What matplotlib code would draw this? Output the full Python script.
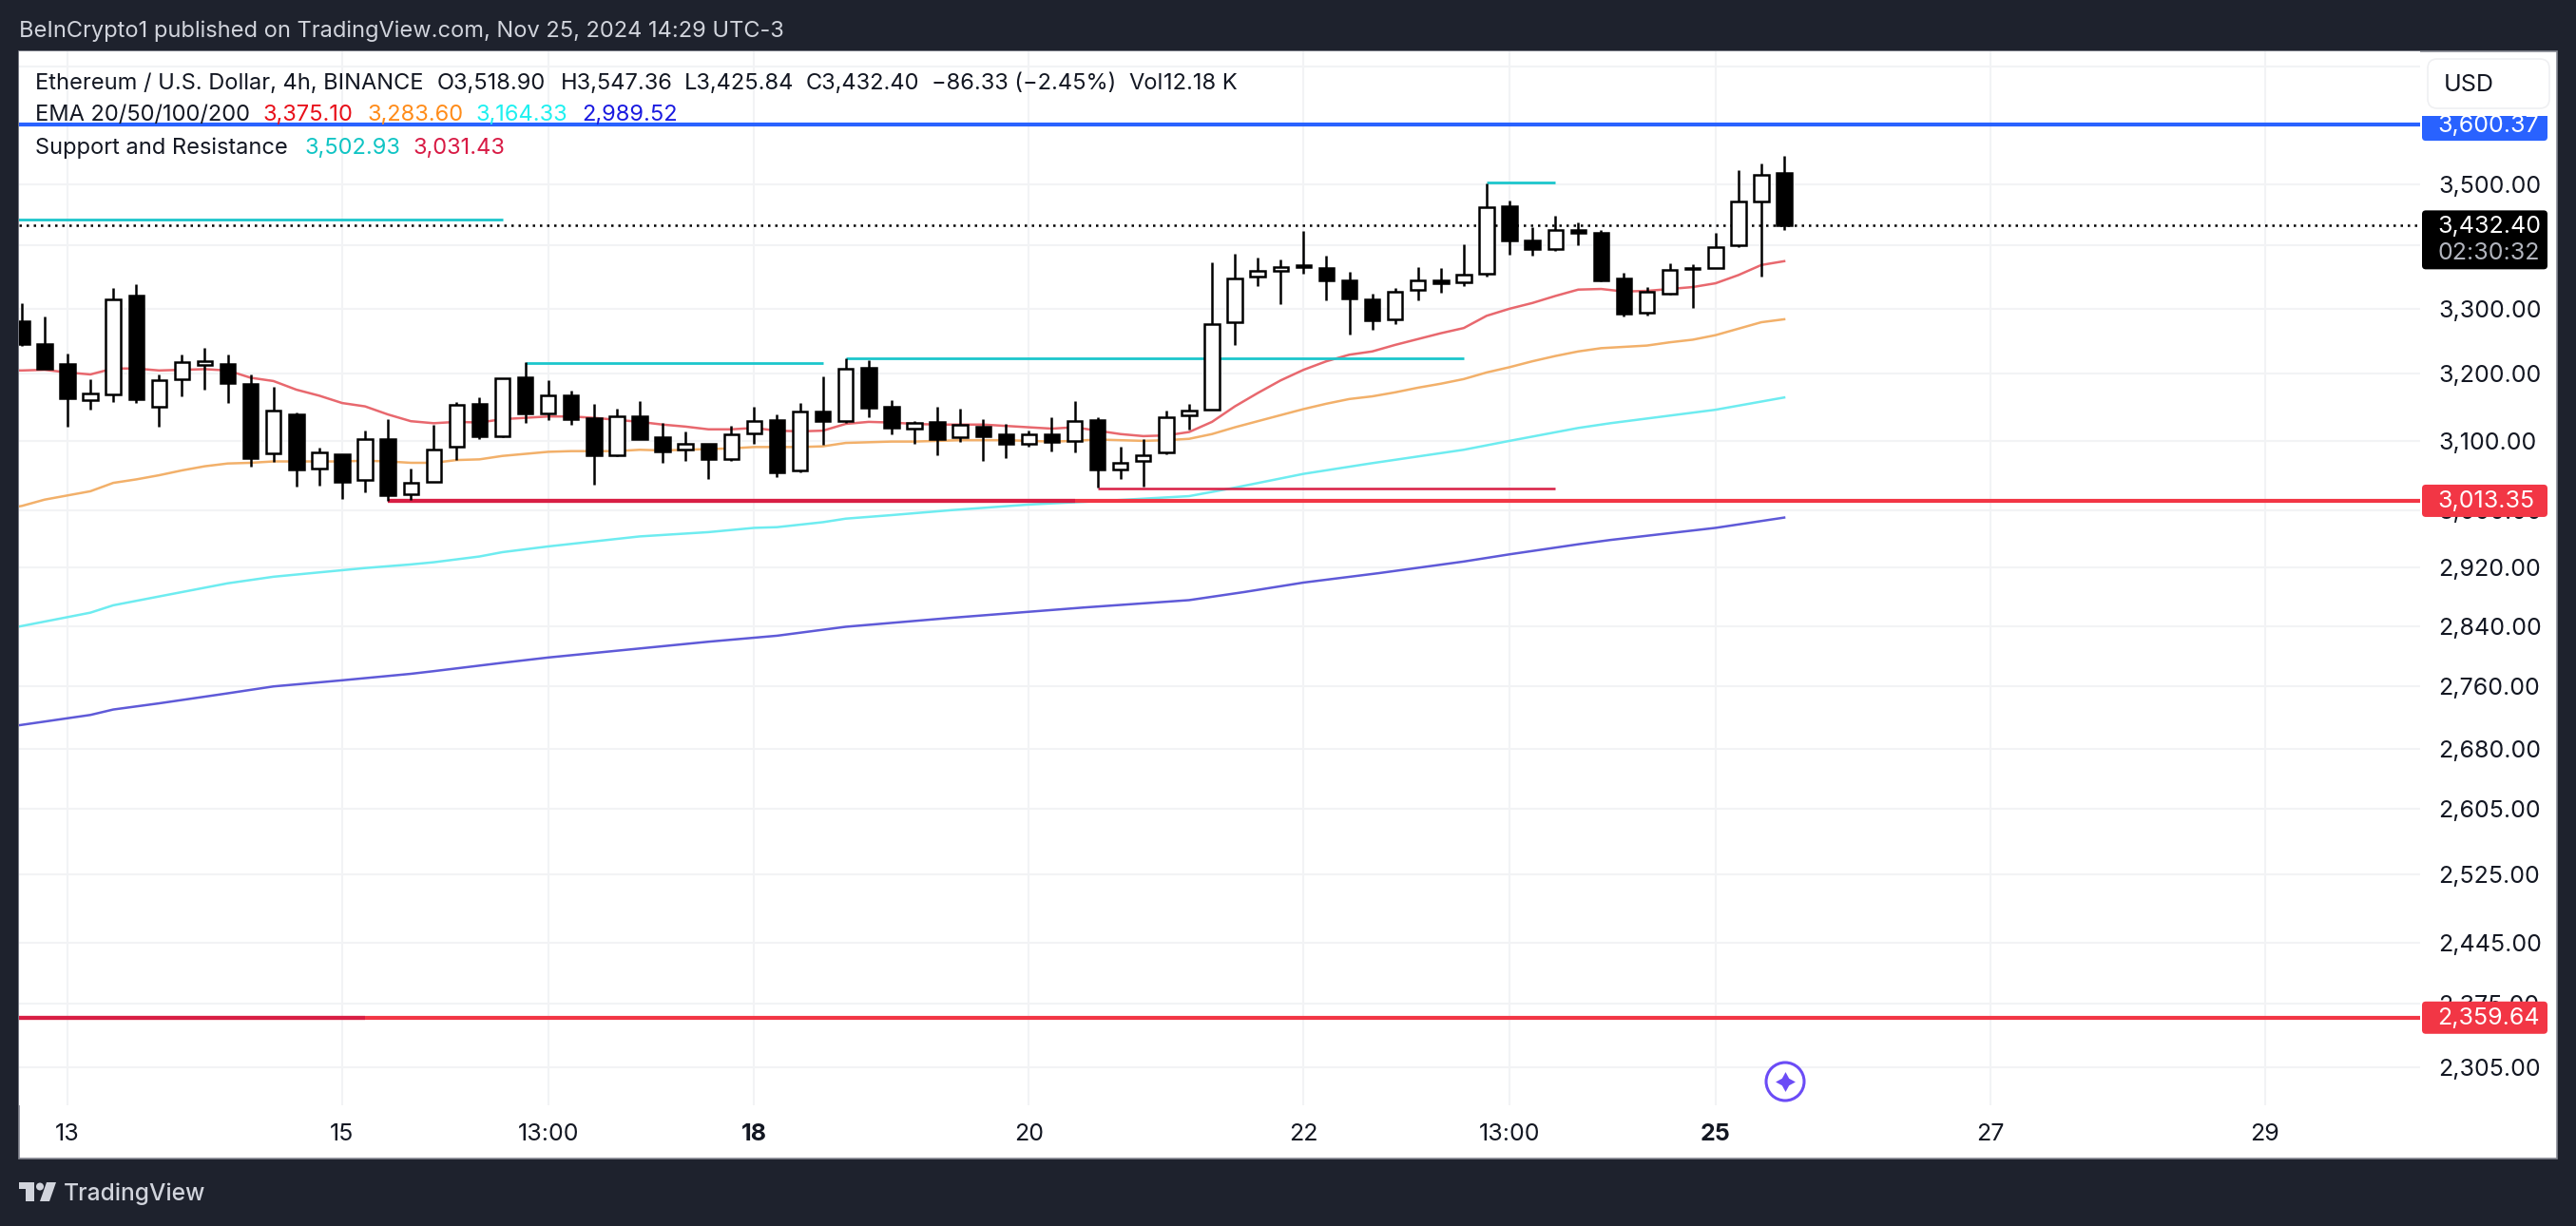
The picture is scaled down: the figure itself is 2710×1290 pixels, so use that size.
import matplotlib
matplotlib.use("Agg")
import matplotlib.pyplot as plt
from matplotlib.patches import Rectangle, FancyBboxPatch, Polygon, Circle
from matplotlib.ticker import FixedLocator, FixedFormatter, NullLocator
import numpy as np

# candles, one per 4h, first one is two bars before the "13" tick
first_bar = -2
opens = [3280, 3245, 3215, 3161, 3169, 3320, 3151, 3192, 3214, 3215, 3185, 3082, 3139, 3060, 3081, 3043, 3103, 3023, 3041, 3091,
         3154, 3107, 3195, 3140, 3168, 3134, 3079, 3136, 3105, 3087, 3095, 3074, 3111, 3131, 3057, 3143, 3129, 3209, 3150, 3118,
         3128, 3106, 3121, 3110, 3096, 3110, 3100, 3131, 3058, 3071, 3083, 3138, 3146, 3279, 3350, 3359, 3368, 3364, 3345, 3315,
         3283, 3329, 3345, 3341, 3355, 3464, 3408, 3394, 3426, 3420, 3347, 3294, 3323, 3363, 3364, 3400, 3472, 3518.90]
highs = [3308, 3288, 3231, 3192, 3333, 3338, 3199, 3229, 3240, 3230, 3199, 3181, 3142, 3090, 3081, 3115, 3132, 3060, 3123, 3157,
         3164, 3193, 3218, 3190, 3174, 3154, 3147, 3159, 3126, 3114, 3095, 3122, 3150, 3139, 3156, 3196, 3224, 3220, 3161, 3129,
         3150, 3147, 3132, 3125, 3115, 3135, 3159, 3135, 3092, 3102, 3145, 3155, 3374, 3387, 3381, 3378, 3424, 3384, 3358, 3323,
         3332, 3366, 3364, 3402, 3502, 3474, 3430, 3448, 3438, 3426, 3357, 3334, 3372, 3370, 3420, 3524, 3535, 3547.36]
lows = [3243, 3207, 3121, 3146, 3157, 3156, 3121, 3166, 3176, 3156, 3063, 3070, 3034, 3035, 3016, 3025, 3013, 3014, 3041, 3072,
        3102, 3106, 3126, 3130, 3124, 3036, 3077, 3102, 3068, 3071, 3044, 3071, 3096, 3048, 3054, 3094, 3127, 3135, 3109, 3095,
        3079, 3099, 3071, 3075, 3091, 3085, 3083, 3032, 3045, 3034, 3081, 3117, 3146, 3244, 3336, 3307, 3355, 3313, 3260, 3268,
        3276, 3313, 3325, 3336, 3351, 3385, 3384, 3392, 3400, 3343, 3288, 3289, 3322, 3302, 3364, 3398, 3351, 3425.84]
closes = [3246, 3208, 3163, 3170, 3315, 3162, 3190, 3218, 3219, 3186, 3075, 3145, 3059, 3083, 3041, 3102, 3022, 3039, 3088, 3153,
          3107, 3193, 3141, 3167, 3132, 3079, 3136, 3103, 3085, 3095, 3074, 3109, 3129, 3054, 3143, 3129, 3208, 3149, 3119, 3126,
          3103, 3123, 3107, 3096, 3109, 3099, 3129, 3059, 3068, 3079, 3135, 3145, 3276, 3347, 3359, 3365, 3366, 3344, 3316, 3282,
          3327, 3345, 3340, 3353, 3462, 3408, 3394, 3426, 3420, 3345, 3293, 3327, 3361, 3364, 3398, 3471, 3516, 3432.40]

# EMA 20 and 50 read bar by bar, starts one bar left of the chart edge
ema20 = [3205, 3205, 3206, 3202, 3199, 3208, 3208, 3205, 3206, 3207, 3205, 3194, 3189, 3176, 3167, 3156, 3151, 3139, 3129, 3126,
         3128, 3127, 3132, 3134, 3136, 3136, 3134, 3131, 3128, 3124, 3121, 3117, 3117, 3119, 3115, 3114, 3115, 3125, 3128, 3127,
         3125, 3124, 3124, 3124, 3122, 3120, 3118, 3120, 3115, 3110, 3107, 3108, 3113, 3128, 3151, 3171, 3190, 3206, 3219, 3229,
         3234, 3244, 3253, 3262, 3270, 3289, 3300, 3309, 3320, 3330, 3331, 3327, 3328, 3331, 3334, 3340, 3353, 3369, 3375.10]
ema50 = [3001, 3006, 3015, 3021, 3027, 3039, 3044, 3050, 3057, 3063, 3067, 3068, 3070, 3070, 3070, 3070, 3071, 3070, 3068, 3068,
         3072, 3073, 3078, 3081, 3084, 3085, 3085, 3085, 3087, 3086, 3087, 3088, 3089, 3091, 3091, 3091, 3092, 3097, 3098, 3099,
         3099, 3100, 3101, 3101, 3101, 3100, 3099, 3100, 3102, 3101, 3100, 3101, 3103, 3110, 3120, 3129, 3138, 3147, 3155, 3162,
         3166, 3172, 3179, 3185, 3192, 3202, 3210, 3219, 3227, 3234, 3239, 3241, 3243, 3248, 3252, 3259, 3269, 3279, 3283.60]

# EMA 100 and 200 only read where the line bends
ema100_bars = [-3, 1, 2, 4, 7, 9, 12, 13, 15, 16, 18, 19, 21, 23, 25, 28, 30, 31, 33, 34, 36, 38.6, 42, 45.7, 49, 50.9, 54, 56.9, 61, 63, 66, 67.4, 72, 75]
ema100 = [2834, 2858, 2868, 2880, 2898, 2907, 2916, 2919, 2924, 2927, 2935, 2941, 2949, 2956, 2963, 2969, 2975, 2976, 2983, 2988, 2993, 3000, 3008, 3014, 3020, 3031.5, 3052, 3067, 3087, 3100, 3119, 3126, 3146, 3164.33]
ema200_bars = [-3, 1, 2, 4, 7, 9, 12, 15, 16, 19, 21, 23, 25, 28, 31, 34, 38.6, 44.4, 49, 51.4, 54, 57.3, 61, 63, 66, 67.4, 72, 75]
ema200 = [2706, 2723, 2730, 2738, 2751, 2760, 2768, 2776.5, 2780, 2791, 2798, 2804, 2810, 2819, 2827, 2839, 2851, 2865, 2875, 2886, 2899, 2912, 2928, 2938, 2952, 2958, 2975, 2989.52]

# support / resistance pieces: level, first bar, last bar
teal_levels = [3443, 3217, 3223, 3502.93]
teal_starts = [-3, 20, 34, 62]
teal_ends = [19, 33, 61, 65]
crimson_levels = [3031.43, 3013.35, 2359.64]
crimson_starts = [45, 14, -3]
crimson_ends = [65, 44, 13]

resistance = 3600.37
support = 3013.35
support_low = 2359.64
support_start = 14
last_price = 3432.40
price_label = "3,432.40"
countdown = "02:30:32"

# 3,700 3,600 and 3,400 have grid lines but their labels are hidden behind the tags in the original
grid_prices = [3700, 3600, 3500, 3400, 3300, 3200, 3100, 3000, 2920, 2840, 2760, 2680, 2605, 2525, 2445, 2375, 2305]
grid_labels = ["", "", "3,500.00", "", "3,300.00", "3,200.00", "3,100.00", "3,000.00", "2,920.00",
               "2,840.00", "2,760.00", "2,680.00", "2,605.00", "2,525.00", "2,445.00", "2,375.00", "2,305.00"]
time_bars = [0, 12, 21, 30, 42, 54, 63, 72, 84, 96]
time_labels = ["13", "15", "13:00", "18", "20", "22", "13:00", "25", "27", "29"]
bold_times = ["18", "25"]

W, H = 2710, 1290
DARK = "#1e222d"
FONT = "Inter"
plt.rcParams["font.family"] = [FONT, "DejaVu Sans"]

fig = plt.figure(figsize=(W / 100, H / 100), dpi=100, facecolor=DARK)
fig.add_artist(Rectangle((20 / W, 1 - 1219 / H), 2670 / W, 1165 / H, transform=fig.transFigure,
                         facecolor="white", edgecolor="#868993", linewidth=1.2, zorder=-1))

ax = fig.add_axes([20 / W, 1 - 1163 / H, 2526 / W, 1109 / H], zorder=1)
ax.set_facecolor("white")
ax.set_yscale("log")
ax.set_ylim(2263.8, 3727.4)
ax.set_xlim(-2.118, 102.78)
for s in ax.spines.values():
    s.set_visible(False)

ax.yaxis.tick_right()
ax.yaxis.set_major_locator(FixedLocator(grid_prices))
ax.yaxis.set_major_formatter(FixedFormatter(grid_labels))
ax.yaxis.set_minor_locator(NullLocator())
ax.set_xticks(time_bars)
ax.set_xticklabels(time_labels)
for t in ax.get_xticklabels():
    if t.get_text() in bold_times:
        t.set_fontweight("bold")
ax.tick_params(axis="y", length=0, pad=14, labelsize=18, labelcolor="#131722", which="both")
ax.tick_params(axis="x", length=0, pad=14, labelsize=18, labelcolor="#131722")
ax.grid(True, color="#f2f3f5", linewidth=1.5)
ax.set_axisbelow(True)

# ema lines under the candles
ema_bars = np.arange(len(ema20)) - 3
ax.plot(ema_bars, ema20, color="#e8686e", lw=1.8, zorder=2)
ax.plot(ema_bars, ema50, color="#f2b06a", lw=1.8, zorder=2)
ax.plot(ema100_bars, ema100, color="#6eecf0", lw=1.8, zorder=2)
ax.plot(ema200_bars, ema200, color="#5f5ad8", lw=1.8, zorder=2)

# horizontal levels
ax.axhline(resistance, color="#2962ff", lw=3, zorder=2.5)
ax.plot([support_start, 102.78], [support, support], color="#f23645", lw=3, zorder=2.2, solid_capstyle="butt")
ax.axhline(support_low, color="#f23645", lw=3, zorder=2.2)
for level, a, b in zip(crimson_levels, crimson_starts, crimson_ends):
    w = 1.8 if level == crimson_levels[0] else 3
    ax.plot([a, b], [level, level], color="#d81e44", lw=w, zorder=2.3, solid_capstyle="butt")
for level, a, b in zip(teal_levels, teal_starts, teal_ends):
    ax.plot([a, b], [level, level], color="#1cc6cc", lw=2, zorder=2.3, solid_capstyle="butt")
ax.axhline(last_price, color="black", lw=1.8, linestyle=(0, (1, 2)), zorder=2.4)

# candles
bars = np.arange(len(opens)) + first_bar
opens_a, closes_a = np.array(opens), np.array(closes)
ax.vlines(bars, lows, highs, color="black", lw=1.8, zorder=3)
colors = ["white" if c >= o else "black" for o, c in zip(opens, closes)]
ax.bar(bars, np.abs(closes_a - opens_a), bottom=np.minimum(opens_a, closes_a), width=0.64,
       color=colors, edgecolor="black", linewidth=1.8, zorder=4)

# overlay in pixel coordinates for everything around the chart
ov = fig.add_axes([0, 0, 1, 1], zorder=5)
ov.set_xlim(0, W)
ov.set_ylim(H, 0)
ov.axis("off")
ov.patch.set_alpha(0)


def price_to_px(price):
    return H - ax.transData.transform((0, price))[1]


def price_tag(price, label, color, half=17, fg="white"):
    y = price_to_px(price)
    ov.add_patch(FancyBboxPatch((2548, y - half), 132, 2 * half, boxstyle="round,pad=0,rounding_size=4",
                                facecolor=color, edgecolor="none"))
    ov.text(2564, y + 1, label, color=fg, fontsize=18, va="center", ha="left")


price_tag(resistance, "3,600.37", "#2962ff")
price_tag(support, "3,013.35", "#f23645")
price_tag(support_low, "2,359.64", "#f23645")

y_last = price_to_px(last_price)
ov.add_patch(FancyBboxPatch((2548, y_last - 16), 132, 62, boxstyle="round,pad=0,rounding_size=4",
                            facecolor="black", edgecolor="none"))
ov.text(2564, y_last + 1, price_label, color="white", fontsize=18, va="center", ha="left")
ov.text(2564, y_last + 29, countdown, color="#b2b5be", fontsize=18, va="center", ha="left")

# USD button sits over the top of the blue tag
ov.add_patch(Rectangle((2546, 56), 140, 66, facecolor="white", edgecolor="none"))
ov.add_patch(FancyBboxPatch((2554, 62), 128, 52, boxstyle="round,pad=0,rounding_size=10",
                            facecolor="white", edgecolor="#eff0f2", linewidth=1.2))
ov.text(2571, 89, "USD", color="#131722", fontsize=18, va="center", ha="left")

# header / legend
ov.text(20, 33, "BeInCrypto1 published on TradingView.com, Nov 25, 2024 14:29 UTC-3", color="#d1d4dc", fontsize=17, va="center")
legend_rows = [
    (88, [(37, "Ethereum / U.S. Dollar, 4h, BINANCE", "#131722"), (460, "O3,518.90", "#131722"), (590, "H3,547.36", "#131722"),
          (720, "L3,425.84", "#131722"), (848, "C3,432.40", "#131722"), (980, "−86.33 (−2.45%)", "#131722"), (1187, "Vol", "#131722"), (1224, "12.18 K", "#131722")]),
    (121, [(37, "EMA 20/50/100/200", "#131722"), (276, "3,375.10", "#e8101a"), (386, "3,283.60", "#ff8c1a"),
           (500, "3,164.33", "#1ef0f0"), (612, "2,989.52", "#1a1ae0")]),
    (156, [(37, "Support and Resistance", "#131722"), (320, "3,502.93", "#10c4c4"), (435, "3,031.43", "#d81b45")]),
]
for y, items in legend_rows:
    for x, text, color in items:
        ov.text(x, y, text, color=color, fontsize=17, va="center", ha="left")

# purple star icon
ov.add_patch(Circle((1878, 1138), 20, facecolor="white", edgecolor="#6b4cf6", linewidth=2.2))
ov.plot([1878], [1138], marker=(4, 1, 0), color="#6b4cf6", markersize=15, markeredgewidth=0)

# TradingView footer
logo = "#d1d4dc"
ov.add_patch(Polygon([(20, 1244), (36, 1244), (36, 1264), (27, 1264), (27, 1251), (20, 1251)], closed=True, facecolor=logo, edgecolor="none"))
ov.add_patch(Circle((42, 1248.5), 4, facecolor=logo, edgecolor="none"))
ov.add_patch(Polygon([(49, 1244), (59, 1244), (52, 1264), (42, 1264)], closed=True, facecolor=logo, edgecolor="none"))
ov.text(67, 1256, "TradingView", color=logo, fontsize=17.7, fontweight="medium", va="center", ha="left")

fig.savefig("out.png", dpi=100, facecolor=DARK)
